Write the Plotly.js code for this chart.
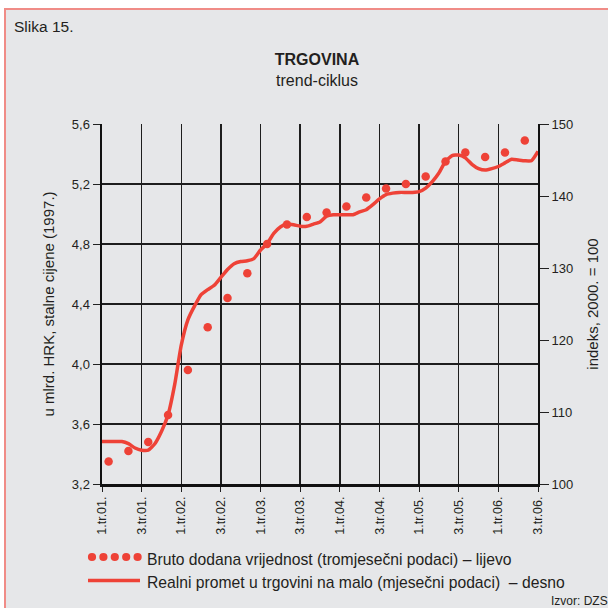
<!DOCTYPE html>
<html>
<head>
<meta charset="utf-8">
<script src="https://cdn.plot.ly/plotly-3.0.1.min.js"></script>
<style>
html,body{margin:0;padding:0;background:#ffffff;width:608px;height:608px;overflow:hidden;}
#bg{position:absolute;left:4px;top:8px;width:700px;height:700px;background:#e6e7e9;border-left:2px solid #f08c87;border-top:2px solid #f08c87;}
#chart{position:absolute;left:0;top:0;width:608px;height:608px;}
</style>
</head>
<body>
<div id="bg"></div>
<div id="chart"></div>
<script>
// Tick labels on the time axis (every half year)
const tickLabels = ["1.tr.01.","3.tr.01.","1.tr.02.","3.tr.02.","1.tr.03.","3.tr.03.",
                    "1.tr.04.","3.tr.04.","1.tr.05.","3.tr.05.","1.tr.06.","3.tr.06."];

// Quarterly categories (1.tr.01. .. 2.tr.06.)
const quarterLabels = ["1.tr.01.","2.tr.01.","3.tr.01.","4.tr.01.",
                       "1.tr.02.","2.tr.02.","3.tr.02.","4.tr.02.",
                       "1.tr.03.","2.tr.03.","3.tr.03.","4.tr.03.",
                       "1.tr.04.","2.tr.04.","3.tr.04.","4.tr.04.",
                       "1.tr.05.","2.tr.05.","3.tr.05.","4.tr.05.",
                       "1.tr.06.","2.tr.06."];

// Bruto dodana vrijednost (tromjesečni podaci), mlrd. HRK – left axis
const grossValueAdded = [3.35, 3.42, 3.48, 3.66, 3.96, 4.245, 4.44, 4.605,
                         4.80, 4.93, 4.98, 5.01, 5.05, 5.11, 5.17, 5.20,
                         5.25, 5.35, 5.41, 5.38, 5.41, 5.49];

// Realni promet u trgovini na malo (mjesečni podaci), indeks 2000.=100 – right axis
// monthly from I.2001 to VII.2006
const retailTurnover = [105.9,105.9,105.9,105.9,105.6,105.0,104.7,104.7,105.6,107.3,
                        109.6,113.8,119.3,122.8,124.7,126.3,127.0,127.6,128.7,129.8,
                        130.6,130.9,131.0,131.3,132.5,133.4,134.8,135.7,136.1,136.0,
                        135.8,135.8,136.1,136.4,137.2,137.4,137.4,137.4,137.4,137.8,
                        138.1,138.8,139.6,140.2,140.4,140.5,140.5,140.5,140.6,141.1,
                        142.0,143.2,144.8,145.6,145.7,145.3,144.4,143.8,143.6,143.8,
                        144.1,144.6,145.1,145.0,144.9,144.9,146.2];

const monthsPerTick = 6;
const tickVals = tickLabels.map((_, i) => i * monthsPerTick);
const quarterX = quarterLabels.map((_, i) => i * 3 + 1);
const monthX = retailTurnover.map((_, i) => i);

const RED = "#ee4237";
const FONT = "Liberation Sans, Arial, sans-serif";
const TXT = "#231f20";

// plot area in pixels (for placing decorations)
const L = 102, R = 70, T = 124, B = 124, W = 608, H = 608;
const pw = W - L - R, ph = H - T - B;
const px = x => (x - L) / pw;
const py = y => (H - B - y) / ph;

const traces = [
  {
    x: monthX, y: retailTurnover, yaxis: "y2", type: "scatter", mode: "lines",
    line: {color: RED, width: 3.5, shape: "spline", smoothing: 0.5},
    name: "Realni promet u trgovini na malo (mjesečni podaci) – desno",
    hoverinfo: "skip", showlegend: false
  },
  {
    x: quarterX, y: grossValueAdded, type: "scatter", mode: "markers",
    marker: {color: RED, size: 8.5},
    text: quarterLabels,
    name: "Bruto dodana vrijednost (tromjesečni podaci) – lijevo",
    showlegend: false
  }
];

const legendDots = [];
for (let i = 0; i < 5; i++) {
  const cx = 92 + i * 11.4, cy = 557, r = 4.1;
  legendDots.push({type: "circle", xref: "paper", yref: "paper",
    x0: px(cx - r), x1: px(cx + r), y0: py(cy + r), y1: py(cy - r),
    fillcolor: RED, line: {width: 0}});
}
legendDots.push({type: "line", xref: "paper", yref: "paper",
  x0: px(88), x1: px(140), y0: py(580.5), y1: py(580.5),
  line: {color: RED, width: 3.5}});

const layout = {
  width: W, height: H,
  margin: {l: L, r: R, t: T, b: B, pad: 0},
  paper_bgcolor: "rgba(0,0,0,0)",
  plot_bgcolor: "rgba(0,0,0,0)",
  separators: ",.",
  font: {family: FONT, color: TXT, size: 12},
  showlegend: false,
  title: {
    text: "<b>TRGOVINA</b><br>trend-ciklus",
    font: {family: FONT, size: 16, color: TXT},
    xref: "paper", x: px(317), xanchor: "center",
    yref: "container", y: 1 - 65 / H, yanchor: "middle"
  },
  xaxis: {
    range: [0, 66], tickvals: tickVals, ticktext: tickLabels, tickangle: -90,
    showgrid: true, gridcolor: "#1e1e1e", gridwidth: 1.5,
    showline: true, linecolor: "#111", linewidth: 2.5,
    ticks: "outside", ticklen: 5, tickcolor: "#222", tickwidth: 1,
    tickfont: {family: FONT, size: 12.5, color: TXT},
    zeroline: false, fixedrange: true
  },
  yaxis: {
    range: [3.2, 5.6], dtick: 0.4, tick0: 3.2, tickformat: ".1f",
    showgrid: true, gridcolor: "#1e1e1e", gridwidth: 1.5,
    showline: true, linecolor: "#111", linewidth: 2.5,
    ticks: "outside", ticklen: 7, tickcolor: "#222", tickwidth: 1,
    tickfont: {family: FONT, size: 13, color: TXT},
    title: {text: "u mlrd. HRK, stalne cijene (1997.)",
            font: {family: FONT, size: 15, color: TXT}, standoff: 14},
    zeroline: false, fixedrange: true
  },
  yaxis2: {
    overlaying: "y", side: "right",
    range: [100, 150], dtick: 10, tick0: 100,
    showgrid: false,
    showline: true, linecolor: "#111", linewidth: 2,
    ticks: "outside", ticklen: 9, tickcolor: "#222", tickwidth: 1,
    tickfont: {family: FONT, size: 13, color: TXT},
    title: {text: "indeks, 2000. = 100",
            font: {family: FONT, size: 15, color: TXT}, standoff: 15},
    zeroline: false, fixedrange: true
  },
  shapes: legendDots,
  annotations: [
    {text: "Slika 15.", xref: "paper", yref: "paper", x: px(12), y: py(26),
     xanchor: "left", yanchor: "middle", showarrow: false,
     font: {family: FONT, size: 15.5, color: TXT}},
    {text: "Bruto dodana vrijednost (tromjesečni podaci) – lijevo",
     xref: "paper", yref: "paper", x: px(145), y: py(559),
     xanchor: "left", yanchor: "middle", showarrow: false,
     font: {family: FONT, size: 15.7, color: TXT}},
    {text: "Realni promet u trgovini na malo (mjesečni podaci)  – desno",
     xref: "paper", yref: "paper", x: px(145), y: py(582),
     xanchor: "left", yanchor: "middle", showarrow: false,
     font: {family: FONT, size: 15.7, color: TXT}},
    {text: "Izvor: DZS", xref: "paper", yref: "paper", x: px(549), y: py(601),
     xanchor: "left", yanchor: "middle", showarrow: false,
     font: {family: FONT, size: 12, color: TXT}}
  ]
};

Plotly.newPlot("chart", traces, layout, {displayModeBar: false, staticPlot: true});
</script>
</body>
</html>
